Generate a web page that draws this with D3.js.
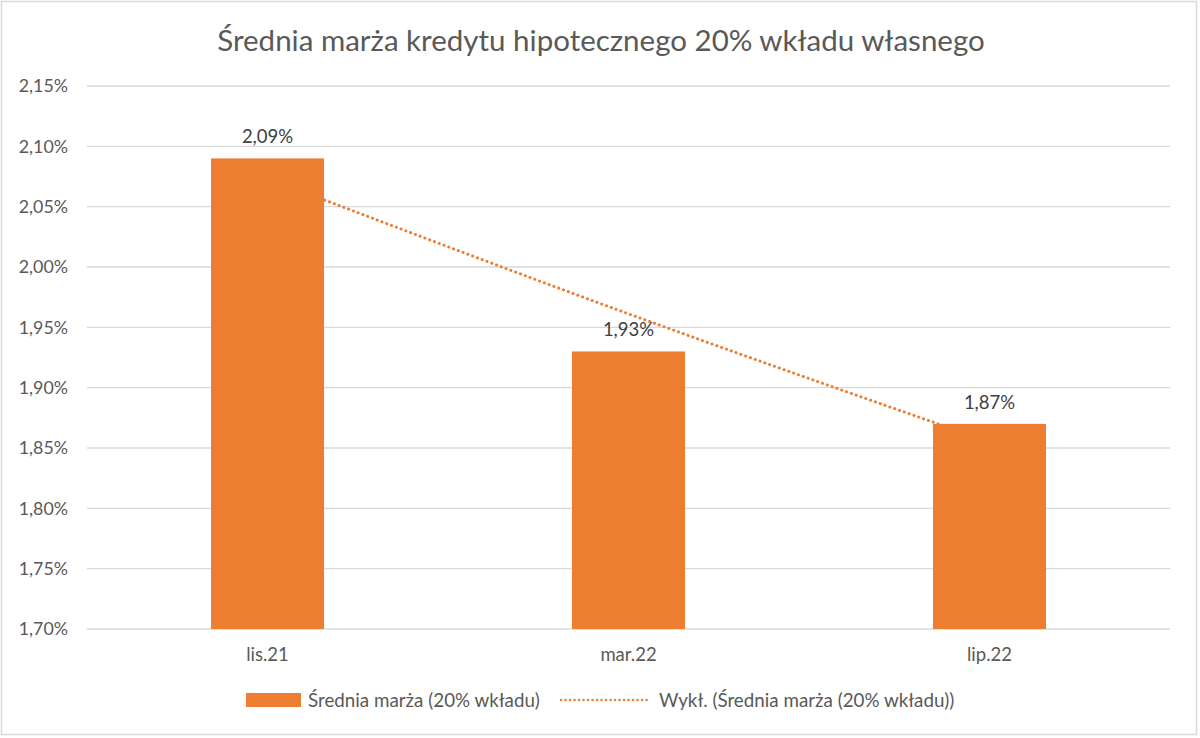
<!DOCTYPE html>
<html>
<head>
<meta charset="utf-8">
<script src="https://cdn.jsdelivr.net/npm/d3@7"></script>
<style>
  body { margin: 0; background: #fff; }
  svg { font-family: Lato, "Open Sans", sans-serif; }
</style>
</head>
<body>
<svg width="1200" height="738"></svg>
<script>
// data
const categories = ["lis.21", "mar.22", "lip.22"];
const values = [2.09, 1.93, 1.87];
// exponential trendline at each category
const trendValues = [2.0735, 1.9612, 1.8551];
const yTicks = [1.70, 1.75, 1.80, 1.85, 1.90, 1.95, 2.00, 2.05, 2.10, 2.15];

const title = "Średnia marża kredytu hipotecznego 20% wkładu własnego";
const seriesName = "Średnia marża (20% wkładu)";
const trendName = "Wykł. (Średnia marża (20% wkładu))";

const fmt = v => v.toFixed(2).replace(".", ",") + "%";

const svg = d3.select("svg");
const W = 1200, H = 738;
const margin = {top: 86, right: 30, bottom: 109, left: 87};
const plotW = W - margin.left - margin.right;
const plotH = H - margin.top - margin.bottom;

// outer border
svg.append("rect")
   .attr("x", 1.5).attr("y", 1.5)
   .attr("width", W - 5).attr("height", H - 5)
   .attr("fill", "#fff")
   .attr("stroke", "#d9d9d9")
   .attr("stroke-width", 1.5)

// title
svg.append("text")
   .attr("x", 601)
   .attr("y", 51)
   .attr("text-anchor", "middle")
   .attr("font-size", "29.5px")
   .attr("fill", "#595959")
   .text(title)

const g = svg.append("g")
             .attr("transform", `translate(${margin.left}, ${margin.top})`)

const x = d3.scaleBand()
            .domain(categories)
            .range([0, plotW])
            .paddingInner(0.687)
            .paddingOuter(0.3435)

const y = d3.scaleLinear()
            .domain([1.70, 2.15])
            .range([plotH, 0])

// gridlines
g.append("g")
 .selectAll("line").data(yTicks)
 .enter().append("line")
 .attr("x1", 0).attr("x2", plotW)
 .attr("y1", d => y(d)).attr("y2", d => y(d))
 .attr("stroke", "#d9d9d9")
 .attr("stroke-width", 1.3)

// Y ticks
const yAxisCall = d3.axisLeft(y).tickValues(yTicks).tickFormat(fmt).tickSize(0).tickPadding(19)
const yAxis = g.append("g").call(yAxisCall)
yAxis.select(".domain").remove()
yAxis.selectAll("text")
     .attr("font-size", "17.8px")
     .attr("fill", "#595959")
     .attr("font-family", "Lato, sans-serif")

// X ticks
const xAxisCall = d3.axisBottom(x).tickSize(0).tickPadding(19)
const xAxis = g.append("g")
               .attr("transform", `translate(0, ${plotH})`)
               .call(xAxisCall)
xAxis.select(".domain").remove()
xAxis.selectAll("text")
     .attr("font-size", "18.5px")
     .attr("fill", "#595959")
     .attr("font-family", "Lato, sans-serif")

// trendline (behind the bars)
const trendLine = d3.line()
                    .x((d, i) => x(categories[i]) + x.bandwidth() / 2)
                    .y(d => y(d))
                    .curve(d3.curveMonotoneX)
g.append("path")
 .datum(trendValues)
 .attr("d", trendLine)
 .attr("fill", "none")
 .attr("stroke", "#ED7D31")
 .attr("stroke-width", 3)
 .attr("stroke-dasharray", "0.1,5")
 .attr("stroke-linecap", "round")

// bars
g.selectAll("rect.bar").data(values)
 .enter().append("rect")
 .attr("class", "bar")
 .attr("x", (d, i) => x(categories[i]))
 .attr("y", d => y(d))
 .attr("width", x.bandwidth())
 .attr("height", d => plotH - y(d))
 .attr("fill", "#ED7D31")

// data labels
g.selectAll("text.lbl").data(values)
 .enter().append("text")
 .attr("class", "lbl")
 .attr("x", (d, i) => x(categories[i]) + x.bandwidth() / 2)
 .attr("y", d => y(d) - 15)
 .attr("text-anchor", "middle")
 .attr("font-size", "18.5px")
 .attr("fill", "#404040")
 .text(d => fmt(d))

// legend
const leg = svg.append("g").attr("transform", "translate(246, 700)")
leg.append("rect")
   .attr("x", 0).attr("y", -7)
   .attr("width", 55).attr("height", 14)
   .attr("fill", "#ED7D31")
leg.append("text")
   .attr("x", 62).attr("y", 7)
   .attr("font-size", "18.8px")
   .attr("fill", "#595959")
   .text(seriesName)
leg.append("line")
   .attr("x1", 315).attr("x2", 404)
   .attr("y1", 0).attr("y2", 0)
   .attr("stroke", "#ED7D31")
   .attr("stroke-width", 2.5)
   .attr("stroke-dasharray", "0.1,4.4")
   .attr("stroke-linecap", "round")
leg.append("text")
   .attr("x", 413).attr("y", 7)
   .attr("font-size", "18.8px")
   .attr("fill", "#595959")
   .text(trendName)
</script>
</body>
</html>
